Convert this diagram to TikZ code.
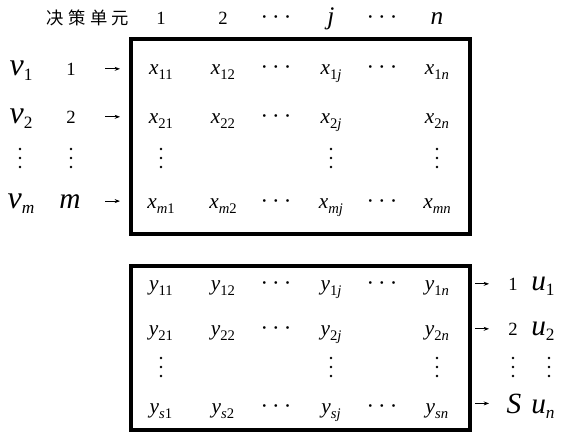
\documentclass[tikz,border=0pt]{standalone}
\usepackage{fontspec}
\setmainfont{Liberation Serif}
\newfontfamily\cjk[LetterSpace=25]{Noto Sans CJK SC}
\usetikzlibrary{arrows.meta,positioning}

% matrix entry and row label with subscript
\newcommand\mel[2]{\textit{#1}\raisebox{-4pt}{\fontsize{11}{11}\selectfont #2}}
\newcommand\lab[2]{\textit{#1}\raisebox{-4pt}{\fontsize{13}{13}\selectfont #2}}
\newcommand\hd{\textperiodcentered\kern3pt\textperiodcentered\kern3pt\textperiodcentered}

\begin{document}
\begin{tikzpicture}[x=0.75pt, y=-0.75pt,
    ent/.style={anchor=base, inner sep=0pt, font=\fontsize{16}{19}\selectfont},
    num/.style={anchor=base, inner sep=0pt, font=\fontsize{14}{16}\selectfont},
    big/.style={anchor=base, inner sep=0pt, font=\fontsize{22}{26}\selectfont},
    dots/.style={anchor=base, inner sep=0pt, font=\fontsize{17}{19}\selectfont},
    vdot/.style={fill=black},
    mbox/.style={draw, line width=3pt, inner sep=0pt},
    arr/.style={-{Stealth[length=4pt, width=3pt]}, line width=0.6pt},
  ]
  \useasboundingbox (0,0) rectangle (561,432);

  % Okviri
  \node[mbox, minimum width=254.25pt, minimum height=146.25pt] (xbox) at (300.5,136.5) {};
  \node[mbox, minimum width=254.25pt, minimum height=123pt] (ybox) at (300.5,348) {};

  % Zaglavlje
  \node[num, font=\cjk\fontsize{13}{15}\selectfont] (h0) at (88,25) {决策单元};
  \node[num] (h1) at (161,24) {1};
  \node[num] (h2) at (223,24) {2};
  \node[dots] (hd1) at (276,24) {\hd};
  \node[big, font=\fontsize{19}{22}\selectfont] (hj) at (331,24) {\textit{j}};
  \node[dots] (hd2) at (382,24) {\hd};
  \node[big, font=\fontsize{19}{22}\selectfont] (hn) at (437,24) {\textit{n}};

  % Ulazi
  \coordinate (la) at (105,0);
  \foreach \r/\t/\y in {1/1/75, 2/2/123} {
    \node[big, font=\fontsize{24}{28}\selectfont] (v\r) at (21,\y) {\lab{v}{\t}};
    \node[num] (i\r) at (71,\y) {\t};
  }
  \node[big, font=\fontsize{24}{28}\selectfont] (vm) at (21,208) {\lab{v}{\textit{m}}};
  \node[big] (im) at (70,208) {\textit{m}};
  \foreach \r in {1,2,m}
    \draw[arr, shorten >=6.75pt] (i\r.center -| la) -- (i\r.center -| xbox.west);

  % Matrica X
  \foreach \r/\t/\y in {1/1/74, 2/2/123, m/\textit{m}/208} {
    \node[ent] (x\r 1) at (161,\y) {\mel{x}{\t1}};
    \node[ent] (x\r 2) at (223,\y) {\mel{x}{\t2}};
    \node[dots] (x\r 3) at (276,\y) {\hd};
    \node[ent] (x\r j) at (331,\y) {\mel{x}{\t\textit{j}}};
    \node[ent] (x\r n) at (437,\y) {\mel{x}{\t\textit{n}}};
  }
  \node[dots] (x1d) at (382,74) {\hd};
  \node[dots] (xmd) at (382,208) {\hd};

  % Matrica Y
  \foreach \r/\t/\y in {1/1/290, 2/2/335, s/\textit{s}/413} {
    \node[ent] (y\r 1) at (161,\y) {\mel{y}{\t1}};
    \node[ent] (y\r 2) at (223,\y) {\mel{y}{\t2}};
    \node[dots] (y\r 3) at (276,\y) {\hd};
    \node[ent] (y\r j) at (331,\y) {\mel{y}{\t\textit{j}}};
    \node[ent] (y\r n) at (437,\y) {\mel{y}{\t\textit{n}}};
  }
  \node[dots] (y1d) at (382,290) {\hd};
  \node[dots] (ysd) at (382,413) {\hd};

  % Izlazi
  \coordinate (ra) at (489,0);
  \node[num] (o1) at (513,290) {1};
  \node[num] (o2) at (513,335) {2};
  \node[big] (os) at (514,413) {\textit{S}};
  \node[big, anchor=base west] (u1) at (531,290) {\lab{u}{1}};
  \node[big, anchor=base west] (u2) at (531,335) {\lab{u}{2}};
  \node[big, anchor=base west] (un) at (531,413) {\lab{u}{\textit{n}}};
  \foreach \r in {1,2,s}
    \draw[arr, shorten <=2.25pt] (o\r.center -| ybox.east) -- (o\r.center -| ra);

  % Vertikalne tockice
  \foreach \x/\y in {20/158, 71/158, 161/158, 331/158, 437/158,
                     161/367, 331/367, 437/367, 513/367, 549/367}
    \foreach \k in {-9,0,9}
      \fill[vdot] (\x,\y+\k) circle (1.1pt);
\end{tikzpicture}
\end{document}
